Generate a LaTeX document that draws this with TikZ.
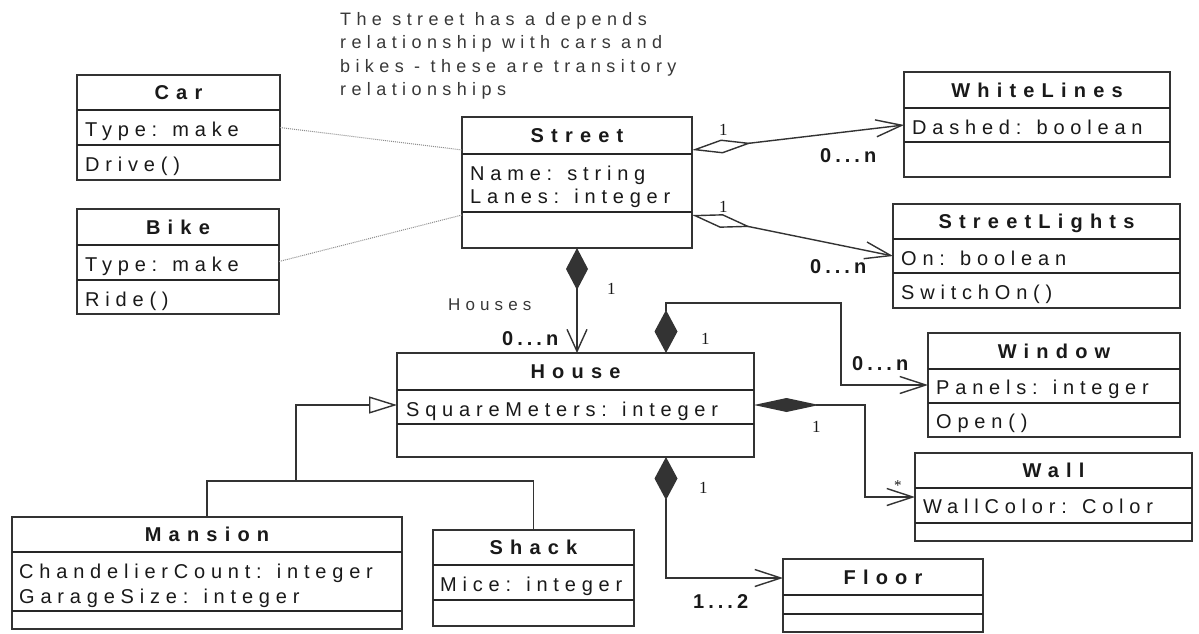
\documentclass[tikz,border=0pt]{standalone}
\usepackage{fontspec}
\setmainfont{Liberation Sans}
\newfontfamily\clsfont[LetterSpace=29]{Liberation Sans}
\newfontfamily\ttlfont[LetterSpace=36]{Liberation Sans}
\newfontfamily\multfont[LetterSpace=20]{Liberation Sans}
\newfontfamily\notefont[LetterSpace=30]{Liberation Sans}
\newfontfamily\serf{Liberation Serif}
\usetikzlibrary{arrows.meta,calc}
\definecolor{linec}{gray}{0.2}
\definecolor{txtc}{gray}{0.1}
\definecolor{notec}{gray}{0.22}
\tikzset{
  cls/.style={draw=linec, line width=1.6pt, fill=white, inner sep=0pt, outer sep=0pt},
  sepl/.style={draw=black!85, line width=2.2pt},
  ttl/.style={font=\ttlfont\bfseries\fontsize{20}{24}\selectfont, text=txtc, inner sep=0pt, text height=14.3pt, text depth=0pt},
  attr/.style={font=\clsfont\fontsize{20}{24}\selectfont, text=txtc, inner sep=0pt, anchor=base west},
  mult/.style={font=\multfont\bfseries\fontsize{20}{24}\selectfont, text=txtc, inner sep=0pt, anchor=base west},
  one/.style={font=\serf\fontsize{17}{20}\selectfont, text=txtc, inner sep=0pt, anchor=base west},
  notes/.style={font=\notefont\fontsize{18}{23.5}\selectfont, text=notec, inner sep=0pt, align=left, anchor=north west},
  conn/.style={draw=linec, line width=1.4pt},
  dep/.style={draw=black!45, line width=1pt, densely dotted},
  comp/.style={{Diamond[length=43pt,width=23pt]}-{Straight Barb[length=26pt,width=17pt]}},
  aggr/.style={{Diamond[open,fill=white,length=60pt,width=14pt]}-{Straight Barb[length=26pt,width=17pt]}},
  gen/.style={-{Triangle[open,fill=white,length=28pt,width=17pt]}}
}
% id, x1, y1, x2, y2, sep1, sep2, title
\newcommand\umlclass[8]{%
  \node[cls, minimum width={#4pt-#2pt}, minimum height={#5pt-#3pt}, anchor=north west] (#1) at (#2,#3) {};
  \draw[sepl] (#2,#6) -- (#4,#6);
  \draw[sepl] (#2,#7) -- (#4,#7);
  \node[ttl] (#1-t) at ({(#2+#4)/2},{(#3+#6)/2}) {#8};
}
\begin{document}
\begin{tikzpicture}[x=1pt,y=-1pt]
\path[use as bounding box, fill=white] (0,0) rectangle (1199,634);

% note
\node[notes] (note) at (340,12) {The street has a depends\\relationship with cars and\\bikes - these are transitory\\relationships};

% classes
\umlclass{car}{77}{75}{280}{180}{110}{145}{Car}
\node[attr] (car-a) at (85,136) {Type: make};
\node[attr] (car-m) at (85,171) {Drive()};

\umlclass{bike}{77}{209}{279}{314}{245}{280}{Bike}
\node[attr] (bike-a) at (85,271) {Type: make};
\node[attr] (bike-m) at (85,306) {Ride()};

\umlclass{street}{462}{117}{692}{248}{154}{212}{Street}
\node[attr] (street-a1) at (470,180) {Name: string};
\node[attr] (street-a2) at (470,203) {Lanes: integer};

\umlclass{white}{904}{72}{1170}{177}{108}{142}{WhiteLines}
\node[attr] (white-a) at (912,134) {Dashed: boolean};

\umlclass{lights}{893}{204}{1180}{308}{239}{273}{StreetLights}
\node[attr] (lights-a) at (901,265) {On: boolean};
\node[attr] (lights-m) at (901,299) {SwitchOn()};

\umlclass{house}{397}{353}{754}{457}{390}{424}{House}
\node[attr] (house-a) at (406,416) {SquareMeters: integer};

\umlclass{window}{928}{333}{1180}{437}{369}{403}{Window}
\node[attr] (window-a) at (936,394) {Panels: integer};
\node[attr] (window-m) at (936,428) {Open()};

\umlclass{wall}{915}{453}{1192}{541}{488}{523}{Wall}
\node[attr] (wall-a) at (923,513) {WallColor: Color};

\umlclass{mansion}{12}{517}{402}{629}{552}{611}{Mansion}
\node[attr] (mansion-a1) at (19,578) {ChandelierCount: integer};
\node[attr] (mansion-a2) at (19,603) {GarageSize: integer};

\umlclass{shack}{433}{530}{634}{626}{565}{600}{Shack}
\node[attr] (shack-a) at (440,591) {Mice: integer};

\umlclass{floor}{783}{559}{983}{632}{595}{614}{Floor}

% connector end points
\coordinate (sc1) at (462,150);
\coordinate (sc2) at (462,215);
\coordinate (sw0) at (692,150);
\coordinate (sw1) at (904,125);
\coordinate (sl0) at (692,215);
\coordinate (sl1) at (893,256);
\coordinate (hw0) at (666,353);
\coordinate (hw1) at (841,303);
\coordinate (hl1) at (865,497);
\coordinate (hf0) at (666,457);
\coordinate (hf1) at (783,578);
\coordinate (gj) at (296,481);

% dependencies
\draw[dep] (car.east) -- (sc1);
\draw[dep] (bike.east) -- (sc2);

% aggregations
\draw[conn, aggr] (sw0) -- (sw1);
\draw[conn, aggr] (sl0) -- (sl1);

% compositions
\draw[conn, {Diamond[length=42pt,width=22pt]}-{Straight Barb[length=22pt,width=20pt]}] (street.south) -- (street.south |- house.north);
\draw[conn, comp] (hw0) |- (hw1) |- (window.west);
\draw[conn, {Diamond[length=65pt,width=14pt]}-{Straight Barb[length=26pt,width=17pt]}] (house.east) -| (hl1) -- (wall.west);
\draw[conn, comp] (hf0) |- (hf1);

% generalization
\draw[conn, gen] (mansion.north) |- (gj) |- (house.west);
\draw[conn] (shack.north) |- (gj);

% labels
\node[one] (l1) at (719,135) {1};
\node[mult] (m1) at (820,162) {0...n};
\node[one] (l2) at (719,212) {1};
\node[mult] (m2) at (810,273) {0...n};
\node[one] (l3) at (607,294) {1};
\node[attr, font=\notefont\fontsize{17}{20}\selectfont, text=notec] (houses) at (448,310) {Houses};
\node[mult] (m3) at (502,345) {0...n};
\node[one] (l4) at (701,344) {1};
\node[mult] (m4) at (852,370) {0...n};
\node[one] (l5) at (812,432) {1};
\node[one, font=\serf\fontsize{15}{18}\selectfont] (st) at (894,490) {*};
\node[one] (l6) at (699,493) {1};
\node[mult] (m5) at (693,608) {1...2};
\end{tikzpicture}
\end{document}
